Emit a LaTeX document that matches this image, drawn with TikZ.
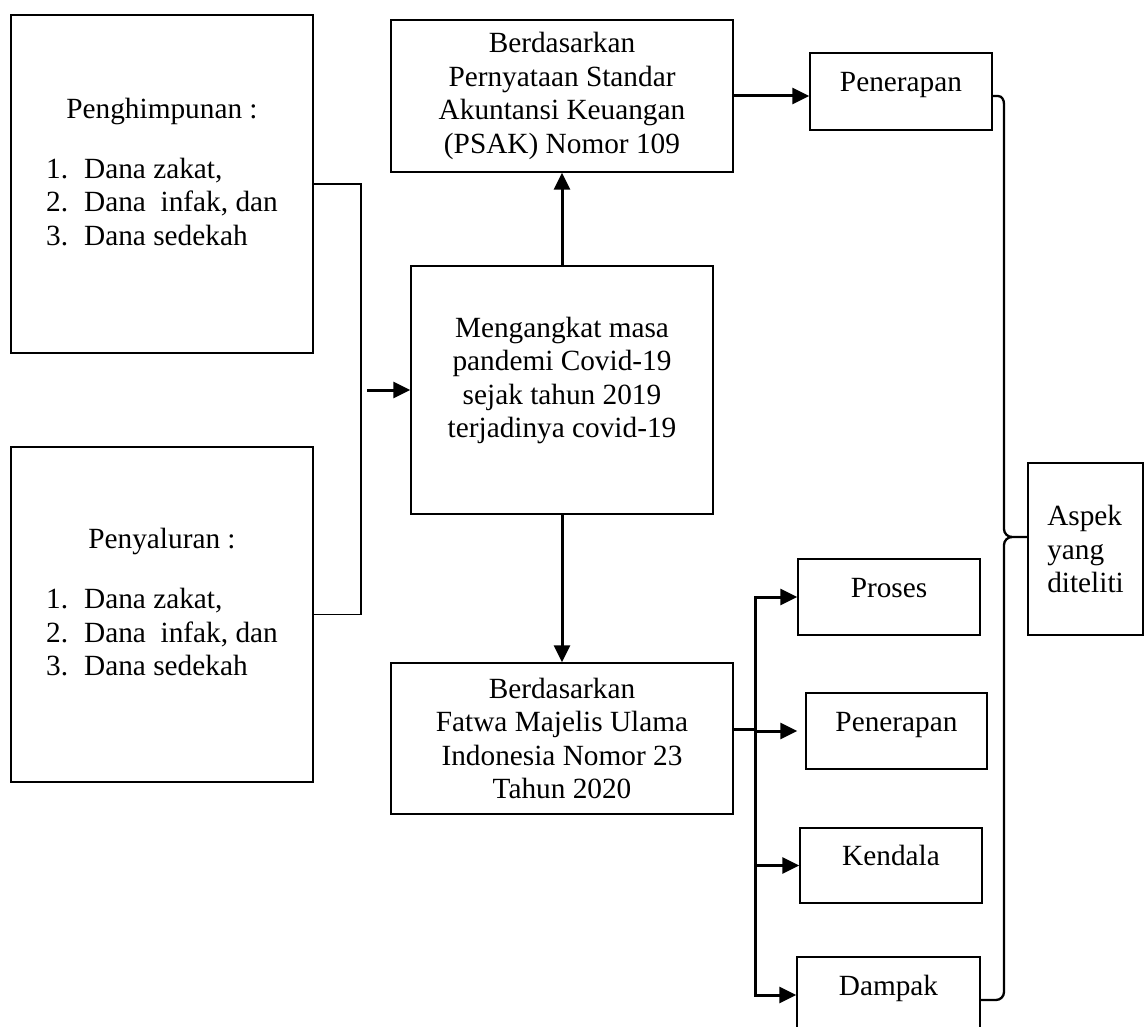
\documentclass[tikz,border=0pt]{standalone}
\usepackage{fontspec}
\setmainfont{Liberation Serif}
\usetikzlibrary{arrows.meta}

\newcommand{\danalist}{\begin{tabular}[b]{@{}l@{\hspace{16pt}}l@{}}
1.&Dana zakat,\\
2.&Dana\ \ infak, dan\\
3.&Dana sedekah
\end{tabular}}

\begin{document}
\begin{tikzpicture}[
    x=1pt, y=-1pt,
    >={Triangle[length=17pt, width=16pt]},
    block/.style  = {draw, line width=1.4pt, align=center, inner sep=0pt,
                     font=\fontsize{29.3pt}{33.5pt}\selectfont},
    lift/.style   = {text depth=25pt},
    item/.style   = {block, text height=19.4pt, text depth=19.4pt},
    wire/.style   = {line width=1.9pt},
    line/.style   = {line width=3pt},
    curly/.style  = {line width=2.3pt}
]
\useasboundingbox (0,0) rectangle (1144,1027);

% Left column
\node[block, lift, minimum width=302pt, minimum height=338pt] (hmp) at (162,184)
    {Penghimpunan :\\[29pt]\danalist};
\node[block, lift, minimum width=302pt, minimum height=335pt] (slr) at (162,614.5)
    {Penyaluran :\\[29pt]\danalist};

% Centre column
\node[block, lift, minimum width=302pt, minimum height=248pt] (covid) at (562,390)
    {Mengangkat masa\\pandemi Covid-19\\sejak tahun 2019\\terjadinya covid-19};
\node[block, minimum width=342pt, minimum height=152pt] (psak) at (562,96)
    {Berdasarkan\\Pernyataan Standar\\Akuntansi Keuangan\\(PSAK) Nomor 109};
\node[block, minimum width=342pt, minimum height=151pt] (fatwa) at (562,738.5)
    {Berdasarkan\\Fatwa Majelis Ulama\\Indonesia Nomor 23\\Tahun 2020};

% Right column
\node[item, minimum width=182pt, minimum height=77pt] (pen1) at (901,91.5) {Penerapan};
\node[item, minimum width=182pt, minimum height=76pt] (proses) at (889,597) {Proses};
\node[item, minimum width=181pt, minimum height=76pt] (pen2) at (896.5,731) {Penerapan};
\node[item, minimum width=182pt, minimum height=75pt] (kendala) at (891,865.5) {Kendala};
\node[item, minimum width=183pt, minimum height=76pt] (dampak) at (888.5,995) {Dampak};
\node[block, align=left, minimum width=115pt, minimum height=172pt] (aspek) at (1085.5,549)
    {Aspek\\yang\\diteliti};

% Joining the two left boxes
\coordinate (join) at (361,390);
\coordinate (feed) at (367,390);
\draw[wire] (hmp.east) -| (join) |- (slr.east);
\draw[->, line] (feed) -- (covid.west);

% Up and down from the centre
\draw[->, line] (covid.north) -- (psak.south);
\draw[->, line] (covid.south) -- (fatwa.north);
\draw[->, line] (psak.east) -- (psak.east -| pen1.west);

% Fan-out to the aspects
\coordinate (bus) at (755,729);
\draw[line] (fatwa.east |- bus) -- (bus);
\foreach \b/\s in {proses/0, pen2/8, kendala/0, dampak/0}
    \draw[->, line, shorten >=\s pt] (bus) |- (\b.west);

% Brace
\coordinate (tip) at (aspek.west |- 0,537);
\draw[curly] ([yshift=-4.5pt]pen1.east) -- (998,96) to[out=0, in=90] (1004,104)
    -- (1004,529) to[out=-90, in=180] (1012,537) -- (tip);
\draw[curly] (1012,537) to[out=180, in=90] (1004,545) -- (1004,992)
    to[out=-90, in=0] (996,1000) -- (dampak.east |- 0,1000);

\end{tikzpicture}
\end{document}
